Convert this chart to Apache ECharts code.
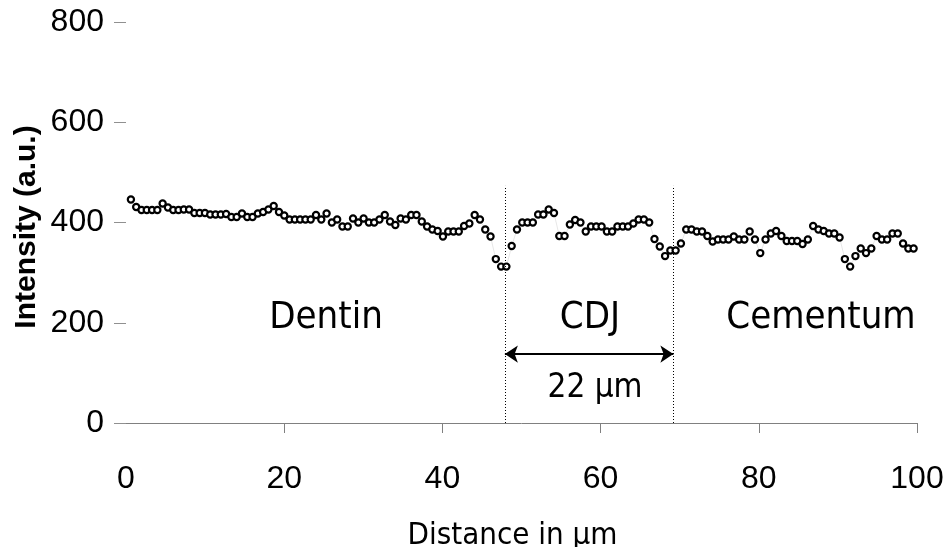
<!DOCTYPE html>
<html>
<head>
<meta charset="utf-8">
<title>Intensity profile</title>
<script src="https://cdn.jsdelivr.net/npm/echarts@6/dist/echarts.min.js"></script>
<style>
  html, body { margin: 0; padding: 0; background: #fff; }
  #chart { width: 945px; height: 547px; }
</style>
</head>
<body>
<div id="chart"></div>
<script>
// line profile: one intensity reading every STEP µm, starting at START
const START = 0.62;
const STEP = 0.6686;
const intensity = [
  446, 431, 425, 425, 425, 425, 438, 430, 425, 425,
  426, 426, 419, 419, 419, 416, 416, 416, 417, 411,
  411, 418, 411, 411, 418, 421, 426, 433, 421, 414,
  406, 406, 406, 406, 406, 415, 406, 418, 400, 406,
  392, 392, 408, 400, 408, 400, 400, 406, 415, 402,
  395, 408, 406, 415, 415, 402, 392, 386, 383, 372,
  382, 382, 382, 393, 398, 415, 406, 386, 372, 327,
  312, 312, 353, 386, 400, 400, 400, 416, 416, 426,
  419, 373, 373, 396, 405, 400, 382, 392, 392, 392,
  382, 382, 392, 392, 392, 398, 406, 406, 400, 367,
  352, 333, 344, 344, 358, 386, 386, 382, 382, 373,
  362, 366, 366, 366, 372, 366, 366, 382, 366, 339,
  366, 378, 383, 373, 363, 363, 363, 357, 366, 393,
  386, 383, 378, 378, 370, 327, 312, 333, 348, 339,
  348, 373, 366, 366, 378, 378, 358, 348, 348
];
const xTicks = [0, 20, 40, 60, 80, 100];
const yTicks = [0, 200, 400, 600, 800];

// region boundaries (µm) and labels
const cdjStart = 47.9;
const cdjEnd = 69.2;
const regionNames = ['Dentin', 'CDJ', 'Cementum'];
const widthLabel = '22 \u00b5m';

const points = intensity.map((v, i) => [+(START + i * STEP).toFixed(3), v]);

const tickFont = 'Liberation Sans, Arial, sans-serif';
const textFont = "'DejaVu Sans Condensed', 'DejaVu Sans', sans-serif";

const chart = echarts.init(document.getElementById('chart'));

const option = {
  backgroundColor: '#fff',
  animation: false,
  grid: { left: 126, right: 28, top: 22, bottom: 124, outerBoundsMode: 'none', containLabel: false },
  xAxis: {
    type: 'value',
    min: 0,
    max: 100,
    interval: 20,
    name: 'Distance in \u00b5m',
    nameLocation: 'middle',
    nameGap: 97,
    nameTextStyle: { fontFamily: textFont, fontSize: 31, color: '#000', padding: [0, 18, 0, 0] },
    axisLine: { show: true, lineStyle: { color: '#808080', width: 1 } },
    axisTick: { show: true, length: 10, lineStyle: { color: '#808080' }, customValues: xTicks.slice(1) },
    axisLabel: { margin: 40, fontFamily: tickFont, fontSize: 32, color: '#000', customValues: xTicks },
    splitLine: { show: false }
  },
  yAxis: {
    type: 'value',
    min: 0,
    max: 800,
    interval: 200,
    axisLine: { show: false },
    axisTick: { show: true, inside: false, length: 12, lineStyle: { color: '#909090' }, customValues: yTicks },
    axisLabel: { margin: 22, fontFamily: tickFont, fontSize: 32, color: '#000', customValues: yTicks },
    splitLine: { show: false }
  },
  series: [{
    type: 'line',
    data: points,
    symbol: 'circle',
    symbolSize: 6.2,
    showAllSymbol: true,
    lineStyle: { color: '#cfcfcf', width: 0.5 },
    itemStyle: { color: '#fff', borderColor: '#000', borderWidth: 2.2 },
    z: 3,
    markLine: {
      silent: true,
      symbol: 'none',
      label: { show: false },
      lineStyle: { color: '#000', type: [1, 2], width: 1 },
      data: [
        [{ coord: [cdjStart, 0] }, { coord: [cdjStart, 473] }],
        [{ coord: [cdjEnd, 0] }, { coord: [cdjEnd, 473] }],
        [{ coord: [cdjStart, 137.5], symbol: 'arrow', symbolSize: [13, 13],
           lineStyle: { type: 'solid', width: 2 } },
         { coord: [cdjEnd, 137.5], symbol: 'arrow', symbolSize: [13, 13] }]
      ]
    }
  }],
  graphic: [
    { type: 'text', x: 27, y: 227, rotation: Math.PI / 2,
      style: { text: 'Intensity (a.u.)', font: 'bold 30px Liberation Sans, Arial, sans-serif', fill: '#000', align: 'center', verticalAlign: 'middle' } },
    { type: 'text', x: 326, y: 318, style: { text: regionNames[0], font: '38px ' + textFont, fill: '#000', align: 'center', verticalAlign: 'middle' } },
    { type: 'text', x: 590, y: 318, style: { text: regionNames[1], font: '38px ' + textFont, fill: '#000', align: 'center', verticalAlign: 'middle' } },
    { type: 'text', x: 821, y: 318, style: { text: regionNames[2], font: '38px ' + textFont, fill: '#000', align: 'center', verticalAlign: 'middle' } },
    { type: 'text', x: 595, y: 388, style: { text: widthLabel, font: '33px ' + textFont, fill: '#000', align: 'center', verticalAlign: 'middle' } }
  ]
};

chart.setOption(option);
</script>
</body>
</html>
